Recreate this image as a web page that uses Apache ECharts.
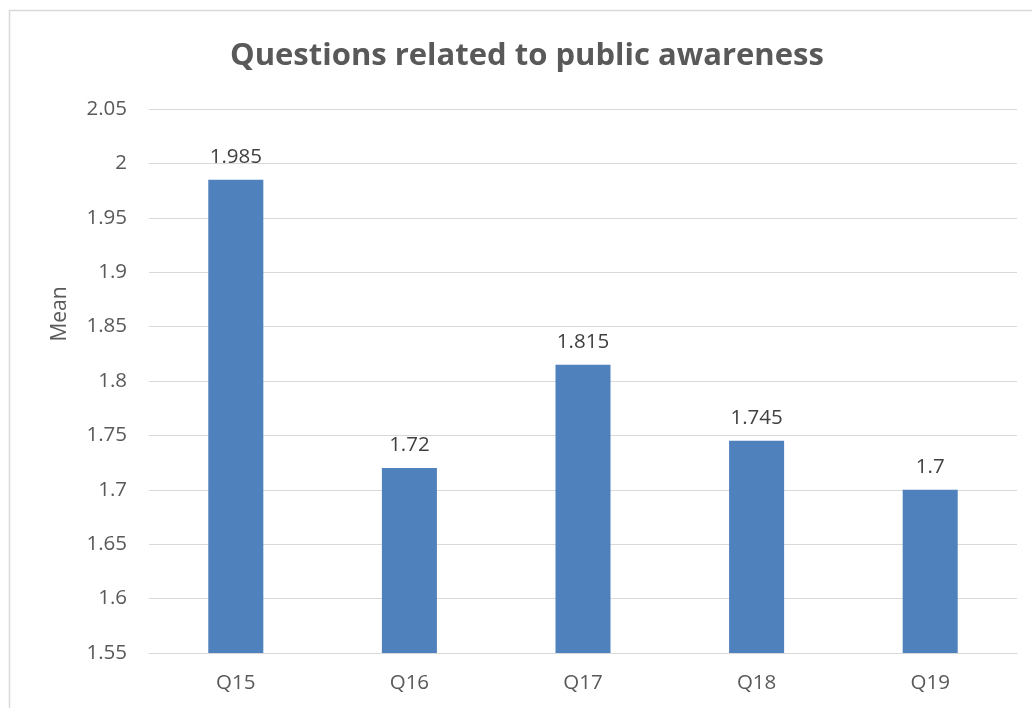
<!DOCTYPE html>
<html>
<head>
<meta charset="utf-8">
<script src="https://cdn.jsdelivr.net/npm/echarts@6/dist/echarts.min.js"></script>
<style>
html,body{margin:0;padding:0;background:#fff;}
#c{width:1032px;height:708px;}
</style>
</head>
<body>
<div id="c"></div>
<script>
const categories = ['Q15', 'Q16', 'Q17', 'Q18', 'Q19'];
const meanValues = [1.985, 1.72, 1.815, 1.745, 1.7];
const yMin = 1.55, yMax = 2.05, yStep = 0.05;

const chart = echarts.init(document.getElementById('c'));
const font = '"Open Sans", "Noto Sans", sans-serif';
chart.setOption({
  animation: false,
  backgroundColor: '#fff',
  title: {
    text: 'Questions related to public awareness',
    left: 225,
    top: 36,
    textStyle: { fontFamily: font, fontSize: 31, fontWeight: 'bold', color: '#595959' }
  },
  graphic: [
    { type: 'rect', shape: { x: 9.5, y: 10.5, width: 1100, height: 800 },
      style: { fill: 'none', stroke: '#d9d9d9', lineWidth: 1.5 }, silent: true },
    { type: 'text', x: 60, y: 314, rotation: Math.PI / 2,
      style: { text: 'Mean', fontFamily: font, fontSize: 21, fill: '#595959',
               align: 'center', verticalAlign: 'middle' } }
  ],
  grid: { left: 149, right: 15, top: 109, bottom: 55, containLabel: false },
  xAxis: {
    type: 'category',
    data: categories,
    axisLine: { show: true, lineStyle: { color: '#d9d9d9', width: 1 } },
    axisTick: { show: false },
    axisLabel: { color: '#595959', fontFamily: font, fontSize: 20.5, margin: 20 }
  },
  yAxis: {
    type: 'value',
    min: yMin, max: yMax, interval: yStep,
    axisLine: { show: false },
    axisTick: { show: false },
    splitLine: { lineStyle: { color: '#d9d9d9', width: 1 } },
    axisLabel: { color: '#595959', fontFamily: font, fontSize: 20.5, margin: 22,
      formatter: v => String(parseFloat(v.toFixed(3))) }
  },
  series: [{
    type: 'bar',
    data: meanValues,
    barWidth: '31.7%',
    itemStyle: { color: '#4f81bd' },
    label: { show: true, position: 'top', distance: 12, color: '#404040',
             fontFamily: font, fontSize: 20.5,
             formatter: p => String(p.value) }
  }]
});
</script>
</body>
</html>
